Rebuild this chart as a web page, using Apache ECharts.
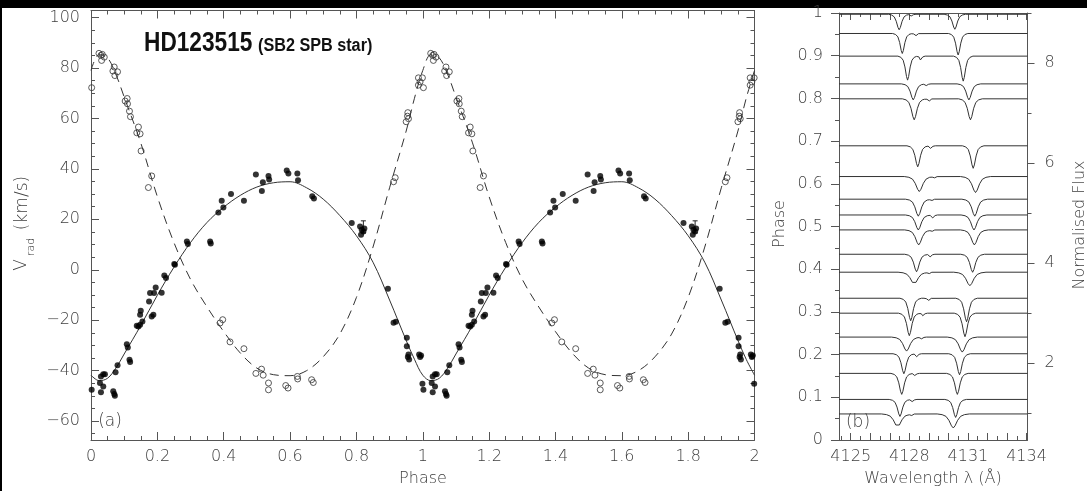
<!DOCTYPE html>
<html>
<head>
<meta charset="utf-8">
<script src="https://cdn.jsdelivr.net/npm/echarts@6/dist/echarts.min.js"></script>
<style>
html,body{margin:0;padding:0;background:#fff;}
#c{width:1087px;height:491px;}
</style>
</head>
<body>
<div id="c"></div>
<script>
// ---------- panel (a): radial velocities, folded on the orbital period ----------
// primary component (filled), [phase, km/s]
const primaryRV = [
  [0.002,-47.6],[0.027,-44.9],[0.030,-42.3],[0.037,-41.4],[0.042,-41.4],[0.037,-46.3],[0.030,-48.6],
  [0.067,-48.2],[0.070,-49.3],[0.072,-50.0],[0.074,-40.6],[0.080,-37.9],[0.108,-29.5],[0.111,-30.8],
  [0.116,-35.7],[0.118,-36.6],[0.138,-22.2],[0.143,-22.5],[0.148,-21.8],[0.148,-17.8],[0.150,-16.3],
  [0.155,-20.5],[0.175,-12.6],[0.178,-9.2],[0.183,-18.5],[0.188,-17.8],[0.190,-9.2],[0.195,-7.0],
  [0.213,-9.1],[0.221,-2.3],[0.226,-3.3],[0.251,2.3],[0.253,2.0],[0.289,11.2],[0.292,10.2],
  [0.359,11.2],[0.361,10.4],[0.384,22.7],[0.394,27.4],[0.399,24.7],[0.422,30.0],[0.461,27.4],
  [0.497,37.8],[0.515,31.2],[0.518,34.7],[0.535,37.2],[0.537,35.8],[0.590,39.4],[0.595,38.2],
  [0.622,38.2],[0.624,35.5],[0.667,29.1],[0.672,28.3],[0.786,18.5],[0.811,17.2],[0.814,13.9],
  [0.816,15.9],[0.821,15.2],[0.824,16.4],[0.895,-7.5],[0.912,-21.0],[0.919,-20.6],[0.952,-27.0],
  [0.952,-30.3],[0.957,-33.6],[0.955,-34.6],[0.959,-35.6],[0.989,-33.6],[0.995,-34.0],[0.992,-34.6],
  [0.999,-45.2]
];
// primary measurements with a drawn uncertainty, [phase, km/s, +/- km/s]
const primaryErr = [[0.821, 17.0, 2.4]];
// secondary component (open), [phase, km/s]
const secondaryRV = [
  [0.002,72.2],[0.024,85.8],[0.030,85.0],[0.032,83.0],[0.034,85.4],[0.040,84.3],[0.066,78.8],
  [0.070,80.4],[0.072,77.0],[0.080,78.5],[0.103,66.9],[0.109,67.9],[0.110,65.8],[0.116,62.9],
  [0.119,60.7],[0.138,54.3],[0.143,56.6],[0.148,53.9],[0.151,47.1],[0.173,32.6],[0.183,37.2],
  [0.389,-21.1],[0.397,-19.8],[0.419,-28.6],[0.461,-31.3],[0.497,-41.1],[0.514,-39.4],[0.519,-41.8],
  [0.535,-44.9],[0.535,-47.6],[0.587,-45.9],[0.594,-46.9],[0.622,-42.3],[0.623,-43.3],[0.665,-43.6],
  [0.670,-44.7],[0.912,34.9],[0.917,36.5],[0.950,58.7],[0.954,60.9],[0.955,62.3],[0.957,59.9],
  [0.987,73.2],[0.987,76.1],[0.992,74.5],[0.999,76.1]
];
// orbital solutions, [phase, km/s]
const primaryFit = [
  [0,-41.8],[0.025,-44.0],[0.05,-43.0],[0.075,-39.0],[0.1,-33.4],[0.15,-22.1],[0.2,-10.1],
  [0.25,1.0],[0.3,10.8],[0.35,18.8],[0.4,24.8],[0.45,29.5],[0.5,32.8],[0.55,34.5],[0.6,34.9],
  [0.65,32.5],[0.7,28.0],[0.75,21.5],[0.8,13.5],[0.85,3.0],[0.9,-12.0],[0.95,-28.0],[0.975,-35.5],[1,-41.8]
];
const secondaryFit = [
  [0,79.0],[0.025,85.3],[0.05,84.0],[0.075,77.5],[0.1,68.5],[0.15,50.3],[0.2,29.0],[0.25,10.8],
  [0.3,-3.8],[0.35,-14.8],[0.4,-24.5],[0.45,-33.0],[0.5,-39.0],[0.55,-41.6],[0.6,-42.0],[0.65,-40.0],
  [0.7,-34.5],[0.75,-25.5],[0.8,-11.0],[0.85,9.0],[0.9,32.5],[0.95,55.0],[0.975,68.0],[1,79.0]
];
const phaseTicks = [0,0.2,0.4,0.6,0.8,1,1.2,1.4,1.6,1.8,2];
const velocityTicks = [-60,-40,-20,0,20,40,60,80,100];

// ---------- panel (b): line profiles around 4128-4131 A ----------
const specPhase   = [0.061,0.095,0.156,0.202,0.241,0.297,0.332,0.393,0.435,0.492,0.527,0.564,0.617,0.689,0.799,0.834,0.899,0.952,0.997];
const line1Centre = [4127.40,4127.52,4127.61,4127.72,4127.86,4128.00,4128.07,4128.25,4128.37,4128.48,4128.46,4128.46,4128.51,4128.43,4128.25,4128.20,4127.91,4127.64,4127.48];
const line1Depth  = [0.26,0.34,0.42,0.40,0.28,0.45,0.45,0.24,0.35,0.30,0.30,0.34,0.30,0.42,0.42,0.32,0.48,0.40,0.31];
const line2Centre = [4130.25,4130.37,4130.46,4130.57,4130.71,4130.85,4130.93,4131.10,4131.24,4131.33,4131.31,4131.35,4131.39,4131.27,4131.13,4131.05,4130.76,4130.50,4130.33];
const line2Depth  = [0.28,0.36,0.42,0.42,0.30,0.47,0.47,0.27,0.36,0.30,0.30,0.34,0.32,0.45,0.42,0.32,0.50,0.43,0.30];
const lineBroad   = [1.5,1.0,1.0,1.0,1.4,1.0,1.0,1.5,1.1,1.3,1.2,1.2,1.4,1.0,1.1,1.1,0.9,0.9,1.0];
const dipCentre   = [4128.10,4128.17,4128.30,4128.40,4128.65,4128.71,4128.97,4129.00,4129.09,4129.15,4129.22,4129.14,4129.27,4129.11,4129.00,4128.89,4128.59,4128.32,4128.12];
const dipDepth    = [0.03,0.05,0.05,0.07,0.04,0.06,0.05,0.03,0.06,0.03,0.07,0.03,0.03,0.06,0.05,0.04,0.09,0.05,0.04];
const wavelengthTicks = [4125,4128,4131,4134];
const specPhaseTicks  = [0,0.1,0.2,0.3,0.4,0.5,0.6,0.7,0.8,0.9,1];
const fluxTicks       = [2,4,6,8];

// ---------- drawing ----------
const FONT = "'DejaVu Sans', sans-serif";
const INK = '#555';
const TEXT = '#404040';
const V_MIN = -67.5, V_MAX = 102.8;
const W_MIN = 4124.4, W_MAX = 4134.05;
const F_MIN = 0.46, F_MAX = 9.0;

function steps(a, b, d) { const out = []; for (let v = a; v <= b + 1e-9; v += d) out.push(+v.toFixed(4)); return out; }
const minus = s => String(s).replace('-', '\u2212');
const lbl = (vals, fmt, margin, extra) => Object.assign({show: true, customValues: vals, formatter: fmt, margin,
  color: TEXT, fontSize: 16, fontFamily: FONT, fontWeight: 200}, extra || {});
const tick = (vals, len, inside) => ({show: true, customValues: vals, length: len, inside, lineStyle: {color: INK, width: 1}});
const line = show => ({show, onZero: false, lineStyle: {color: INK, width: 1}});

function ax(grid, pos, min, max, ticks, label, showLine) {
  return {type: 'value', gridIndex: grid, position: pos, min, max, scale: true,
    axisLine: line(showLine), axisTick: ticks, axisLabel: label || {show: false},
    splitLine: {show: false}, minorTick: {show: false}, splitArea: {show: false}};
}

const xAxes = [
  // panel (a)
  ax(0, 'bottom', 0, 2, tick(phaseTicks, 8, true), lbl(phaseTicks, v => String(+(+v).toFixed(1)), 9), true),
  ax(0, 'bottom', 0, 2, tick(steps(0, 2, 0.05), 4, true), null, false),
  ax(0, 'top', 0, 2, tick(phaseTicks, 8, true), null, true),
  ax(0, 'top', 0, 2, tick(steps(0, 2, 0.05), 4, true), null, false),
  // panel (b)
  ax(1, 'bottom', W_MIN, W_MAX, tick(steps(4125, 4134, 1), 7, true), lbl(wavelengthTicks, v => String(Math.round(v)), 9), true),
  ax(1, 'bottom', W_MIN, W_MAX, tick(steps(4124.5, 4134, 0.5), 4, true), null, false),
  ax(1, 'top', W_MIN, W_MAX, tick(steps(4125, 4134, 1), 7, true), null, true),
  ax(1, 'top', W_MIN, W_MAX, tick(steps(4124.5, 4134, 0.5), 4, true), null, false)
];
const yAxes = [
  // panel (a)
  ax(0, 'left', V_MIN, V_MAX, tick(velocityTicks, 8, true), lbl(velocityTicks, v => minus(Math.round(v)), 11), true),
  ax(0, 'left', V_MIN, V_MAX, tick(steps(-65, 100, 5), 4, true), null, false),
  ax(0, 'right', V_MIN, V_MAX, tick(velocityTicks, 8, true), null, true),
  ax(0, 'right', V_MIN, V_MAX, tick(steps(-65, 100, 5), 4, true), null, false),
  // panel (b): orbital phase on the left, normalised flux on the right
  ax(1, 'left', 0, 1, tick(specPhaseTicks, 8, false), lbl(specPhaseTicks, v => String(+(+v).toFixed(1)), 16), true),
  ax(1, 'left', 0, 1, tick(steps(0.05, 0.95, 0.1), 4, false), null, false),
  ax(1, 'right', F_MIN, F_MAX, tick(fluxTicks, 7, false), lbl(fluxTicks, v => String(Math.round(v)), 17), true),
  ax(1, 'right', F_MIN, F_MAX, tick([1, 3, 5, 7, 9], 4, false), null, false)
];

// two cycles of every curve and point set
const twoCycles = pts => pts.concat(pts.map(([p, ...rest]) => [p + 1, ...rest]));
const twoCyclesCurve = pts => pts.concat(pts.slice(1).map(([p, v]) => [p + 1, v]));

// absorption profile, as fraction of the central depth at an offset in A
const lineShape = [[-0.55,0],[-0.38,0.05],[-0.25,0.17],[-0.15,0.45],[-0.06,0.85],[0,1],[0.06,0.85],[0.15,0.45],[0.25,0.17],[0.38,0.05],[0.55,0]];
function featureDepth(f, lam) {
  const d = (lam - f.c) / f.w;
  if (d <= lineShape[0][0] || d >= lineShape[lineShape.length - 1][0]) return 0;
  for (let i = 1; i < lineShape.length; i++) {
    const [x0, y0] = lineShape[i - 1], [x1, y1] = lineShape[i];
    if (d <= x1) return f.d * (y0 + (y1 - y0) * (d - x0) / (x1 - x0));
  }
  return 0;
}
function spectrum(i) {
  const level = F_MIN + specPhase[i] * (F_MAX - F_MIN);
  const feats = [
    {c: line1Centre[i], d: line1Depth[i], w: lineBroad[i]},
    {c: line2Centre[i], d: line2Depth[i], w: lineBroad[i]},
    {c: dipCentre[i], d: dipDepth[i], w: 0.4}
  ];
  let xs = [W_MIN, W_MAX];
  feats.forEach(f => lineShape.forEach(([o]) => xs.push(f.c + o * f.w)));
  xs = xs.filter(x => x >= W_MIN && x <= W_MAX).sort((a, b) => a - b);
  return xs.map(x => [x, level - feats.reduce((s, f) => s + featureDepth(f, x), 0)]);
}

// vertical error bar with a short cap at each end
function errorBar(params, api) {
  const p = api.value(0), v = api.value(1), e = api.value(2);
  const top = api.coord([p, v + e]), bot = api.coord([p, v - e]);
  const s = {stroke: '#222', lineWidth: 1};
  return {type: 'group', children: [
    {type: 'line', shape: {x1: top[0], y1: top[1], x2: bot[0], y2: bot[1]}, style: s},
    {type: 'line', shape: {x1: top[0] - 2.5, y1: top[1], x2: top[0] + 2.5, y2: top[1]}, style: s},
    {type: 'line', shape: {x1: bot[0] - 2.5, y1: bot[1], x2: bot[0] + 2.5, y2: bot[1]}, style: s}
  ]};
}

const series = [
  {type: 'line', xAxisIndex: 0, yAxisIndex: 0, data: twoCyclesCurve(primaryFit), smooth: 0.35,
    symbol: 'none', silent: true, lineStyle: {color: '#333', width: 1}, z: 2},
  {type: 'line', xAxisIndex: 0, yAxisIndex: 0, data: twoCyclesCurve(secondaryFit), smooth: 0.35,
    symbol: 'none', silent: true, lineStyle: {color: '#333', width: 1, type: [9, 6]}, z: 2},
  {type: 'custom', xAxisIndex: 0, yAxisIndex: 0, data: twoCycles(primaryErr), renderItem: errorBar,
    silent: true, z: 3, encode: {x: 0, y: 1}},
  {type: 'scatter', xAxisIndex: 0, yAxisIndex: 0, data: twoCycles(primaryRV), symbol: 'circle', symbolSize: 6,
    itemStyle: {color: '#000'}, z: 3},
  {type: 'scatter', xAxisIndex: 0, yAxisIndex: 0, data: twoCycles(secondaryRV), symbol: 'circle', symbolSize: 6,
    itemStyle: {color: 'rgba(0,0,0,0)', borderColor: '#333', borderWidth: 1}, z: 3}
];
specPhase.forEach((p, i) => series.push({type: 'line', xAxisIndex: 4, yAxisIndex: 6, data: spectrum(i),
  symbol: 'none', silent: true, lineStyle: {color: '#333', width: 1}, z: 2}));

const txt = (x, y, text, o) => ({type: 'text', x, y, silent: true,
  style: Object.assign({text, fill: TEXT, font: '200 16px ' + FONT, align: 'center', verticalAlign: 'middle'}, o || {})});
const rot = (x, y, text, o) => Object.assign(txt(x, y, text, o), {rotation: Math.PI / 2});
const TITLE_FONT = "'Liberation Sans', Arimo, sans-serif";

const option = {
  animation: false,
  backgroundColor: '#fff',
  grid: [
    {left: 91, top: 10.5, width: 663.5, height: 429.5, containLabel: false},
    {left: 839, top: 13, width: 188.5, height: 427, containLabel: false}
  ],
  xAxis: xAxes,
  yAxis: yAxes,
  series,
  graphic: [
    {type: 'rect', shape: {x: 0, y: 0, width: 1087, height: 8}, style: {fill: '#000'}, silent: true},
    {type: 'rect', shape: {x: 0, y: 0, width: 2, height: 491}, style: {fill: '#000'}, silent: true},
    Object.assign(txt(144, 44, 'HD123515', {align: 'left', fill: '#111', font: 'bold 27px ' + TITLE_FONT}), {scaleX: 0.84}),
    Object.assign(txt(258, 46, '(SB2 SPB star)', {align: 'left', fill: '#111', font: 'bold 18px ' + TITLE_FONT}), {scaleX: 0.9}),
    txt(110, 422, '(a)', {font: '200 17px ' + FONT}),
    txt(858, 423, '(b)', {font: '200 17px ' + FONT}),
    txt(423, 479, 'Phase'),
    txt(933, 479, 'Wavelength \u03bb (\u00c5)'),
    rot(22, 265, 'V', {font: '200 17px ' + FONT}),
    rot(31, 247, 'rad', {font: '200 11px ' + FONT}),
    rot(23, 203, '(km/s)', {font: '200 17px ' + FONT}),
    rot(780, 224, 'Phase'),
    rot(1080, 225, 'Normalised Flux')
  ]
};

const chart = echarts.init(document.getElementById('c'));
chart.setOption(option);
</script>
</body>
</html>
